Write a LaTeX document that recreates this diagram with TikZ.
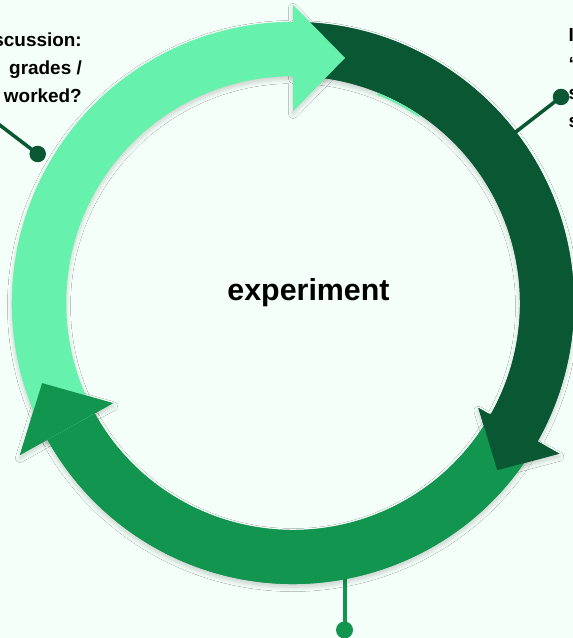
\documentclass[tikz,border=0pt]{standalone}
\usepackage{fontspec}
\setmainfont{Liberation Sans}
\usetikzlibrary{shadows.blur,calc}
\definecolor{bg}{HTML}{F5FFFA}
\definecolor{lightg}{HTML}{66F2AD}
\definecolor{darkg}{HTML}{0A5733}
\definecolor{midg}{HTML}{12964F}
\begin{document}
\begin{tikzpicture}[x=1bp,y=1bp,
  lbl/.style={font=\bfseries\fontsize{19}{21}\selectfont, inner sep=0pt, text=black},
  title/.style={font=\bfseries\fontsize{30.5}{32}\selectfont, inner sep=0pt, text=black},
  shad/.style={blur shadow={shadow xshift=0bp, shadow yshift=-3bp, shadow blur radius=4.5bp, shadow blur steps=8, shadow opacity=20}},
  conn/.style={line width=3.5bp},
  dotnode/.style={circle, inner sep=0pt, minimum size=16.5bp},
  medbody/.style={insert path={($(C)+(-29.5:281)$) arc[start angle=-29.5, end angle=-150.9, radius=281] -- ($(C)+(-150.9:227)$) arc[start angle=-150.9, end angle=-29.5, radius=227] -- cycle}},
  medhead/.style={insert path={($(C)+(209.1:312.5)$) -- ($(C)+(197.7:263.4)$) -- ($(C)+(209.1:206)$) -- cycle}},
  darkfull/.style={insert path={($(C)+(90:281)$) arc[start angle=90, end angle=-29.5, radius=281] -- ($(C)+(-29.5:306)$) -- ($(C)+(-39.3:264)$) -- ($(C)+(-29.5:213)$) -- ($(C)+(-29.5:227)$) arc[start angle=-29.5, end angle=90, radius=227] -- cycle}},
  lightfull/.style={insert path={($(C)+(209.1:281)$) arc[start angle=209.1, end angle=90, radius=281] -- ($(C)+(90:298)$) -- ($(C)+(78:250.5)$) -- ($(C)+(90:192)$) -- ($(C)+(90:227)$) arc[start angle=90, end angle=209.1, radius=227] -- cycle}}
]
\useasboundingbox (0,0) rectangle (573,638);
\fill[bg] (0,0) rectangle (573,638);
\clip (0,0) rectangle (573,638);
\coordinate (C) at (293,335);

% connectors (under the ring)
\coordinate (lt) at (-10,520.4);
\node[dotnode, fill=darkg] (ldot) at (37.7,484) {};
\draw[conn, darkg] (lt) -- (ldot.center);
\coordinate (rr) at ($(C)+(37.5:262)$);
\node[dotnode, fill=darkg] (rdot) at (561,541) {};
\draw[conn, darkg] (rr) -- (rdot.center);
\coordinate (bt) at (344.5,80);
\node[dotnode, fill=midg, minimum size=17bp] (bdot) at (344.5,8) {};
\draw[conn, midg, line width=4bp] (bt) -- (bdot.center);

% shadow pass
\path[shad, fill=midg, medbody];
\path[shad, fill=midg, medhead];
\path[shad, fill=darkg, darkfull];
\path[shad, fill=lightg, lightfull];

% fill pass
\path[fill=midg, medbody];
\path[fill=darkg, darkfull];
\draw[lightg, line width=2bp] ($(C)+(68:225.5)$) arc[start angle=68, end angle=56, radius=225.5];
\path[fill=lightg, lightfull];
\path[fill=midg, medhead];

% texts
\node[title, anchor=base] (t) at (308.5,337) {experiment};
\node[lbl, anchor=base east] (l1) at (82,591) {scussion:};
\node[lbl, anchor=base east] (l2) at (82,563) {grades /};
\node[lbl, anchor=base east] (l3) at (82,535) {worked?};
\node[lbl, anchor=base west] (r1) at (568.5,596) {I};
\node[lbl, anchor=base west] (r2) at (568.5,567.3) {“};
\node[lbl, anchor=base west] (r3) at (568.5,538.7) {s};
\node[lbl, anchor=base west] (r4) at (568.5,510) {s};
\end{tikzpicture}
\end{document}
